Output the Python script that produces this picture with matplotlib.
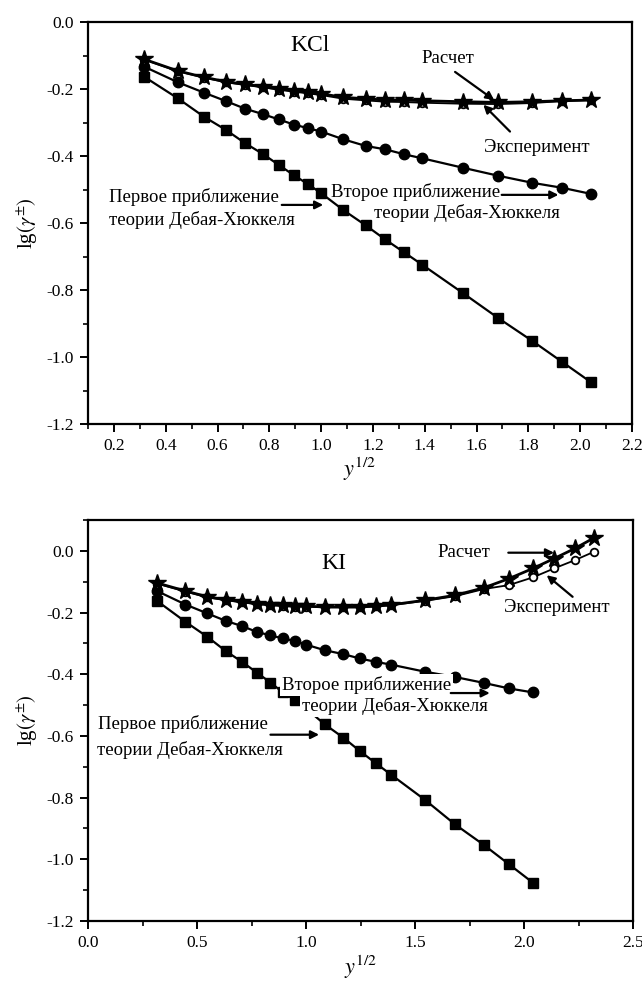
import matplotlib
matplotlib.use('Agg')
import matplotlib.pyplot as plt
from matplotlib.ticker import MultipleLocator, FormatStrFormatter

plt.rcParams['font.family'] = ['Liberation Serif', 'DejaVu Serif']
plt.rcParams['mathtext.fontset'] = 'stix'

# ---------------- KCl data ----------------
x_kcl = [0.316, 0.447, 0.548, 0.632, 0.707, 0.775, 0.837, 0.894, 0.949, 1.0,
         1.085, 1.172, 1.247, 1.321, 1.391, 1.547, 1.684, 1.815, 1.931, 2.041]
calc_kcl = [-0.111, -0.146, -0.165, -0.178, -0.186, -0.193, -0.200, -0.205, -0.210, -0.214,
            -0.225, -0.229, -0.233, -0.233, -0.235, -0.238, -0.240, -0.238, -0.235, -0.233]
exp_kcl = [-0.112, -0.147, -0.166, -0.180, -0.188, -0.195, -0.202, -0.208, -0.213, -0.218,
           -0.229, -0.234, -0.238, -0.239, -0.241, -0.244, -0.245, -0.242, -0.236, -0.233]
dh2_kcl = [-0.133, -0.180, -0.211, -0.236, -0.259, -0.275, -0.291, -0.306, -0.317, -0.327,
           -0.350, -0.370, -0.380, -0.395, -0.407, -0.435, -0.459, -0.480, -0.495, -0.513]
dh1_kcl = [-0.163, -0.228, -0.283, -0.322, -0.362, -0.394, -0.427, -0.457, -0.484, -0.511,
           -0.561, -0.607, -0.649, -0.688, -0.725, -0.809, -0.884, -0.952, -1.015, -1.075]

# ---------------- KI data ----------------
x_ki = [0.316, 0.447, 0.548, 0.632, 0.707, 0.775, 0.837, 0.894, 0.949, 1.0,
        1.085, 1.172, 1.247, 1.321, 1.391, 1.547, 1.684, 1.815, 1.931, 2.041,
        2.138, 2.234, 2.321]
calc_ki = [-0.104, -0.130, -0.149, -0.158, -0.165, -0.171, -0.174, -0.177, -0.179, -0.179,
           -0.182, -0.182, -0.182, -0.179, -0.175, -0.160, -0.144, -0.120, -0.090, -0.057,
           -0.025, 0.008, 0.042]
exp_ki = [-0.106, -0.132, -0.151, -0.160, -0.167, -0.173, -0.176, -0.179, -0.181, -0.181,
          -0.183, -0.183, -0.183, -0.180, -0.176, -0.162, -0.147, -0.124, -0.111, -0.086,
          -0.057, -0.030, -0.003]
x_ki_dh = x_ki[:20]
dh2_ki = [-0.130, -0.174, -0.203, -0.227, -0.244, -0.263, -0.274, -0.284, -0.292, -0.304,
          -0.322, -0.335, -0.349, -0.360, -0.369, -0.392, -0.409, -0.428, -0.446, -0.459]
dh1_ki = [-0.162, -0.230, -0.279, -0.325, -0.360, -0.395, -0.427, -0.459, -0.484, -0.511,
          -0.562, -0.606, -0.649, -0.689, -0.726, -0.808, -0.887, -0.953, -1.016, -1.076]

W, H = 642, 985
fig = plt.figure(figsize=(W / 100, H / 100), dpi=100)

ax1 = fig.add_axes([88 / W, 1 - 424 / H, (632 - 88) / W, (424 - 22) / H])
ax2 = fig.add_axes([88 / W, 1 - 921 / H, (633 - 88) / W, (921 - 520) / H])

TICK_FS = 12.5
ANN_FS = 13.5


def style_axis(ax):
    for s in ax.spines.values():
        s.set_linewidth(1.6)
    ax.tick_params(which='major', direction='out', length=6, width=1.4,
                   labelsize=TICK_FS, top=False, right=False, pad=4)
    ax.tick_params(which='minor', direction='out', length=3.5, width=1.2,
                   top=False, right=False)
    ax.yaxis.set_major_formatter(FormatStrFormatter('%.1f'))
    ax.xaxis.set_major_formatter(FormatStrFormatter('%.1f'))


def draw_series(ax, x, calc, exp, xdh, dh2, dh1):
    ax.plot(xdh, dh1, '-', color='black', lw=1.6, marker='s', ms=7,
            mfc='black', mec='black', zorder=3)
    ax.plot(xdh, dh2, '-', color='black', lw=1.6, marker='o', ms=7.5,
            mfc='black', mec='black', zorder=3)
    ax.plot(x, exp, '-', color='black', lw=1.3, marker='o', ms=5.5,
            mfc='white', mec='black', mew=1.3, zorder=3.5)
    ax.plot(x, calc, '-', color='black', lw=2.0, marker='*', ms=13,
            mfc='black', mec='black', zorder=4)


def arrow(ax, start, end):
    ax.annotate('', xy=end, xytext=start,
                arrowprops=dict(arrowstyle='-|>', lw=1.6, color='black',
                                mutation_scale=12, shrinkA=0, shrinkB=0),
                zorder=6)


# ---------------- top panel: KCl ----------------
draw_series(ax1, x_kcl, calc_kcl, exp_kcl, x_kcl, dh2_kcl, dh1_kcl)
ax1.set_xlim(0.1, 2.2)
ax1.set_ylim(-1.2, 0.0)
ax1.xaxis.set_major_locator(MultipleLocator(0.2))
ax1.xaxis.set_minor_locator(MultipleLocator(0.1))
ax1.yaxis.set_major_locator(MultipleLocator(0.2))
ax1.yaxis.set_minor_locator(MultipleLocator(0.1))
style_axis(ax1)
ax1.set_xlabel(r'$y^{\mathrm{1/2}}$', fontsize=16, labelpad=1)
ax1.set_ylabel(r'lg$(\gamma^{\pm})$', fontsize=15, labelpad=5)

ax1.text(0.957, -0.069, 'KCl', fontsize=17, ha='center', va='center')
ax1.text(1.49, -0.110, 'Расчет', fontsize=ANN_FS, ha='center', va='center')
arrow(ax1, (1.517, -0.149), (1.668, -0.233))
ax1.text(1.832, -0.374, 'Эксперимент', fontsize=ANN_FS, ha='center', va='center')
arrow(ax1, (1.729, -0.327), (1.626, -0.247))
ax1.text(1.038, -0.508, 'Второе приближение', fontsize=ANN_FS, ha='left', va='center')
ax1.text(1.204, -0.571, 'теории Дебая-Хюккеля', fontsize=ANN_FS, ha='left', va='center')
arrow(ax1, (1.697, -0.516), (1.916, -0.516))
ax1.text(0.18, -0.522, 'Первое приближение', fontsize=ANN_FS, ha='left', va='center')
ax1.text(0.18, -0.591, 'теории Дебая-Хюккеля', fontsize=ANN_FS, ha='left', va='center')
arrow(ax1, (0.848, -0.546), (1.008, -0.546))

# ---------------- bottom panel: KI ----------------
draw_series(ax2, x_ki, calc_ki, exp_ki, x_ki_dh, dh2_ki, dh1_ki)
ax2.set_xlim(0.0, 2.5)
ax2.set_ylim(-1.2, 0.1)
ax2.xaxis.set_major_locator(MultipleLocator(0.5))
ax2.xaxis.set_minor_locator(MultipleLocator(0.25))
ax2.yaxis.set_major_locator(MultipleLocator(0.2))
ax2.yaxis.set_minor_locator(MultipleLocator(0.1))
style_axis(ax2)
ax2.set_xlabel(r'$y^{\mathrm{1/2}}$', fontsize=16, labelpad=2)
ax2.set_ylabel(r'lg$(\gamma^{\pm})$', fontsize=15, labelpad=5)

box = dict(facecolor='white', edgecolor='none', pad=1.5)
ax2.text(1.128, -0.041, 'KI', fontsize=17, ha='center', va='center')
ax2.text(1.725, -0.005, 'Расчет', fontsize=ANN_FS, ha='center', va='center')
arrow(ax2, (1.928, -0.006), (2.138, -0.006))
ax2.text(2.15, -0.184, 'Эксперимент', fontsize=ANN_FS, ha='center', va='center')
arrow(ax2, (2.223, -0.149), (2.104, -0.079))
ax2.text(0.89, -0.436, 'Второе приближение', fontsize=ANN_FS, ha='left',
         va='center', bbox=box, zorder=5)
ax2.text(0.98, -0.502, 'теории Дебая-Хюккеля', fontsize=ANN_FS, ha='left',
         va='center', bbox=box, zorder=5)
arrow(ax2, (1.664, -0.461), (1.843, -0.461))
ax2.text(0.046, -0.562, 'Первое приближение', fontsize=ANN_FS, ha='left',
         va='center', bbox=box, zorder=5)
ax2.text(0.040, -0.645, 'теории Дебая-Хюккеля', fontsize=ANN_FS, ha='left',
         va='center', bbox=box, zorder=5)
arrow(ax2, (0.837, -0.596), (1.060, -0.596))

fig.savefig('out.png', dpi=100)
